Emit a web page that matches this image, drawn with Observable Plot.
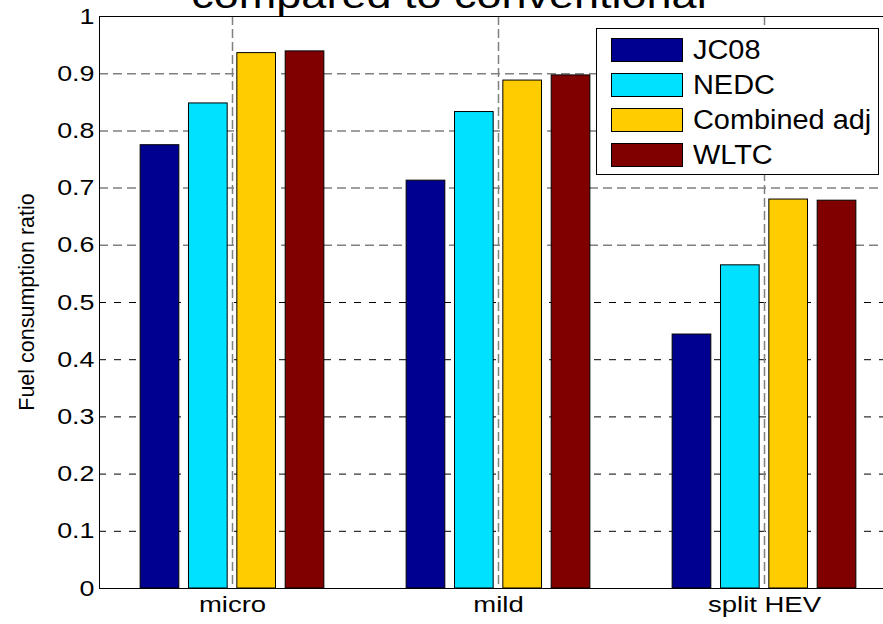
<!DOCTYPE html>
<html>
<head>
<meta charset="utf-8">
<script src="https://cdn.jsdelivr.net/npm/d3@7"></script>
<script src="https://cdn.jsdelivr.net/npm/@observablehq/plot@0.6"></script>
<style>
  html, body { margin: 0; padding: 0; background: white; }
  #fig { position: relative; width: 883px; height: 624px; overflow: hidden; font-family: "Liberation Sans", Arial, sans-serif; }
  #fig svg { display: block; }
  .title {
    position: absolute; left: 0; width: 898px; top: -22.5px;
    font-size: 36px; line-height: 36px; text-align: center; color: black;
    transform: scaleX(1.25); transform-origin: 449px 0;
    white-space: nowrap;
  }
  .ylabel {
    position: absolute; left: -123px; top: 290px; width: 300px; height: 24px;
    font-size: 21.5px; line-height: 24px; text-align: center;
    transform: rotate(-90deg); transform-origin: 150px 12px;
    white-space: nowrap;
  }
  .legend {
    position: absolute; left: 596px; top: 28px; width: 281px; height: 145px;
    border: 1px solid black; background: white;
  }
  .legend .row { position: absolute; left: 14px; height: 24px; }
  .legend .sw { position: absolute; left: 0; top: 0; width: 70px; height: 22px; border: 1px solid black; }
  .legend .lab {
    position: absolute; left: 82px; top: -3px; font-size: 27px; line-height: 30px;
    white-space: nowrap; transform: scaleX(1.07); transform-origin: 0 50%;
  }
</style>
</head>
<body>
<div id="fig"></div>
<script>
// Fuel consumption ratio of each hybrid type, per test cycle
const categories = ["micro", "mild", "split HEV"];
const series = ["JC08", "NEDC", "Combined adj", "WLTC"];
const jc08 = [0.775, 0.713, 0.444];
const nedc = [0.848, 0.833, 0.565];
const combinedAdj = [0.936, 0.888, 0.680];
const wltc = [0.939, 0.897, 0.678];
const seriesColors = ["#000090", "#00E0FF", "#FFCC00", "#800000"];
const yTicks = [0, 0.1, 0.2, 0.3, 0.4, 0.5, 0.6, 0.7, 0.8, 0.9, 1];
const titleText = "compared to conventional";
const yLabel = "Fuel consumption ratio";

// grouped bar layout (in category units)
const groupWidth = 0.727;
const slot = groupWidth / series.length;
const barWidth = slot * 0.8;

const seriesValues = [jc08, nedc, combinedAdj, wltc];
const rows = [];
categories.forEach((c, ci) => {
  series.forEach((s, si) => {
    rows.push({category: c, pos: ci + 1, series: s, si, value: seriesValues[si][ci]});
  });
});
const center = d => d.pos + (d.si - (series.length - 1) / 2) * slot;

const chart = Plot.plot({
  width: 883,
  height: 624,
  marginLeft: 99,
  marginRight: -14,
  marginTop: 16,
  marginBottom: 36,
  style: {fontFamily: "'Liberation Sans', Arial, sans-serif", background: "white", color: "black"},
  x: {type: "linear", domain: [0.5, categories.length + 0.5]},
  y: {domain: [0, 1]},
  color: {domain: series, range: seriesColors},
  marks: [
    Plot.gridY(yTicks.filter(v => v > 0.55 && v < 0.95), {stroke: "#808080", strokeOpacity: 1, strokeWidth: 1.5, strokeDasharray: "9,5"}),
    Plot.gridY(yTicks.filter(v => v > 0.05 && v < 0.55), {stroke: "black", strokeOpacity: 1, strokeWidth: 1, strokeDasharray: "7,8"}),
    Plot.gridX(categories.map((c, i) => i + 1), {stroke: "#808080", strokeOpacity: 1, strokeWidth: 1.5, strokeDasharray: "9,4"}),
    Plot.rectY(rows, {
      x1: d => center(d) - barWidth / 2,
      x2: d => center(d) + barWidth / 2,
      y1: 0,
      y2: "value",
      fill: "series",
      stroke: "black",
      strokeWidth: 1
    }),
    Plot.frame({stroke: "black", strokeWidth: 1}),
    Plot.axisY({ticks: yTicks, tickSize: 0, tickPadding: 5, fontSize: 22, tickFormat: d => String(d), label: null}),
    Plot.axisX({ticks: categories.map((c, i) => i + 1), tickFormat: v => categories[v - 1], tickSize: 0, tickPadding: 8, fontSize: 22, label: null})
  ]
});

// widen the tick labels about their anchor points
d3.select(chart).selectAll('g[aria-label="y-axis tick label"] text')
  .attr("transform", function () { return `${this.getAttribute("transform") || ""} scale(1.22,1)`; });
d3.select(chart).selectAll('g[aria-label="x-axis tick label"] text')
  .attr("transform", function () { return `${this.getAttribute("transform") || ""} scale(1.25,1)`; });

const fig = document.getElementById("fig");
fig.appendChild(chart);

const title = document.createElement("div");
title.className = "title";
title.textContent = titleText;
fig.appendChild(title);

const yl = document.createElement("div");
yl.className = "ylabel";
yl.textContent = yLabel;
fig.appendChild(yl);

// legend box
const legend = d3.select(fig).append("div").attr("class", "legend");
series.forEach((s, i) => {
  const row = legend.append("div").attr("class", "row").style("top", `${9 + i * 35}px`);
  row.append("div").attr("class", "sw").style("background", seriesColors[i]);
  row.append("div").attr("class", "lab").text(s);
});
</script>
</body>
</html>
